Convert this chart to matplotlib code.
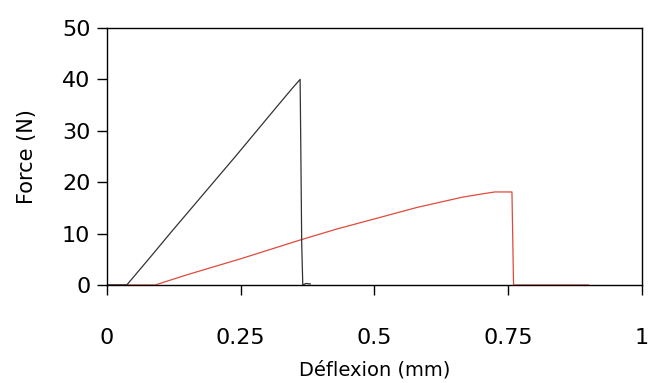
import numpy as np
import matplotlib
matplotlib.use("Agg")
import matplotlib.pyplot as plt

# black specimen (deflexion mm, force N)
x_black = [0.0, 0.037, 0.08, 0.12, 0.16, 0.20, 0.24, 0.28, 0.32, 0.345, 0.361, 0.362, 0.364, 0.366, 0.372, 0.38]
y_black = [0.0, 0.0, 5.3, 10.3, 15.2, 20.1, 25.0, 30.0, 35.0, 38.1, 40.0, 30.0, 8.0, 0.0, 0.3, 0.2]

# red specimen
x_red = [0.0, 0.09, 0.15, 0.25, 0.361, 0.43, 0.505, 0.58, 0.665, 0.70, 0.725, 0.757, 0.760, 0.90]
y_red = [0.0, 0.0, 2.0, 5.1, 8.75, 10.9, 13.0, 15.1, 17.1, 17.7, 18.1, 18.1, 0.0, 0.0]

xticks = [0, 0.25, 0.5, 0.75, 1]
xtick_labels = ['0', '0.25', '0.5', '0.75', '1']
yticks = [0, 10, 20, 30, 40, 50]

fig = plt.figure(figsize=(6.5, 3.83), dpi=100)
ax = fig.add_axes([0.1646, 0.2559, 0.823, 0.671])

ax.plot(x_red, y_red, color='#e04a3c', lw=0.9)
ax.plot(x_black, y_black, color='#333333', lw=0.9)

ax.set_xlim(0, 1)
ax.set_ylim(0, 50)
ax.set_xticks(xticks)
ax.set_xticklabels(xtick_labels)
ax.set_yticks(yticks)
ax.tick_params(axis='both', direction='out', length=7, width=1, labelsize=16)
ax.tick_params(axis='x', pad=24)
ax.tick_params(axis='y', pad=5)
for s in ax.spines.values():
    s.set_linewidth(1.0)

ax.set_xlabel('Déflexion (mm)', fontsize=14, labelpad=9)
ax.set_ylabel('Force (N)', fontsize=15, labelpad=18)

fig.savefig('out.png', dpi=100)
